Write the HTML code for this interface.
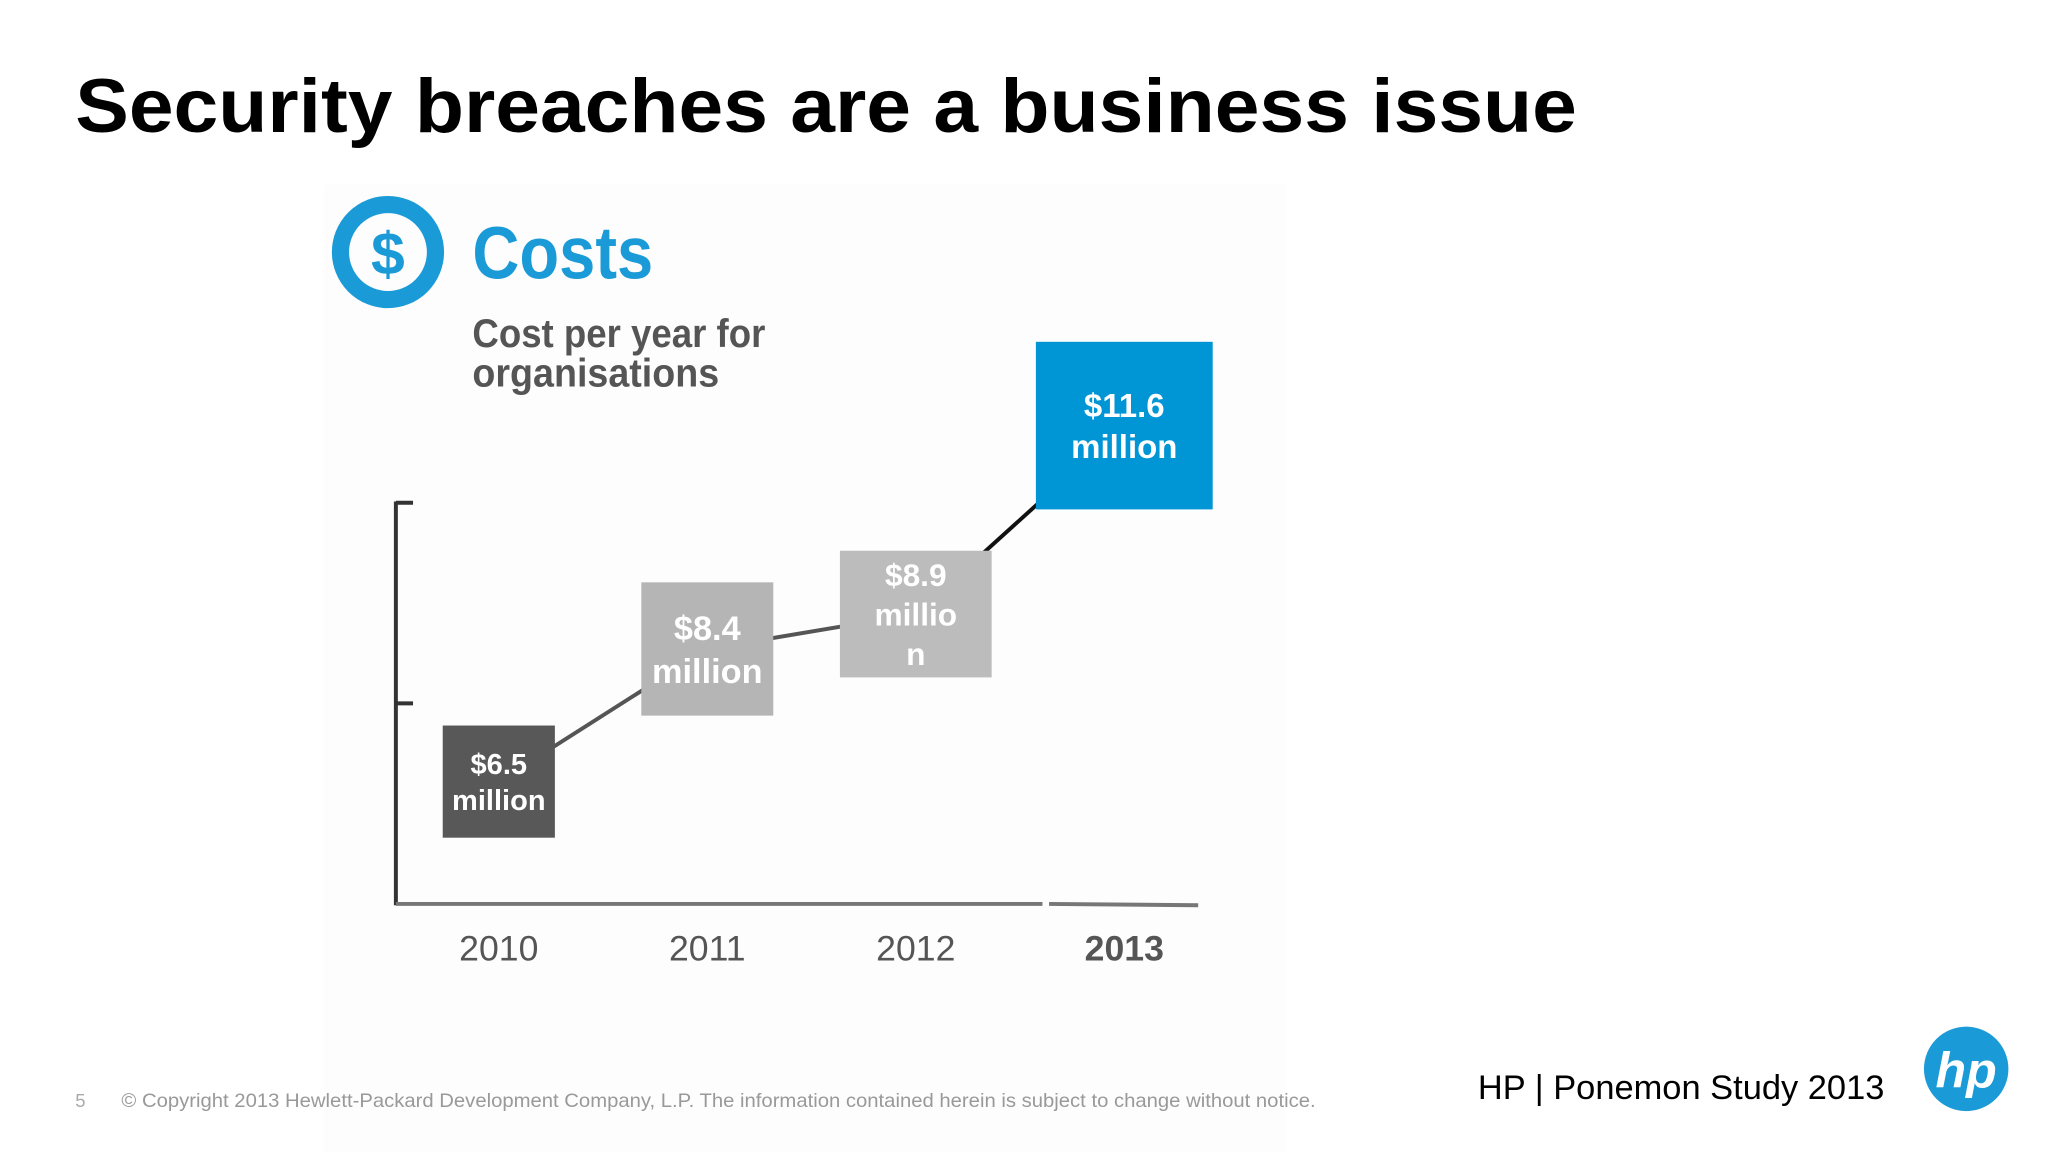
<!DOCTYPE html>
<html><head><meta charset="utf-8">
<style>
html,body{margin:0;padding:0;background:#fff;}
svg{display:block;}
</style></head>
<body>
<svg id="chart" width="2048" height="1152" viewBox="0 0 1552 873" preserveAspectRatio="none" xmlns="http://www.w3.org/2000/svg" font-family="Liberation Sans, sans-serif">
  <rect x="0" y="0" width="1552" height="873" fill="#ffffff"/>
  <rect x="245" y="140" width="730" height="740" fill="#fdfdfd"/>
  <text x="57" y="100" font-size="58" font-weight="bold" fill="#000" textLength="1138" lengthAdjust="spacingAndGlyphs">Security breaches are a business issue</text>
  <g>
    <circle cx="294" cy="191" r="36" fill="none" stroke="#1a9ad6" stroke-width="13"/>
    <text x="294" y="208" font-size="46" font-weight="bold" fill="#1a9ad6" text-anchor="middle">$</text>
  </g>
  <text x="358" y="211" font-size="56" font-weight="bold" fill="#1a9ad6" textLength="137" lengthAdjust="spacingAndGlyphs">Costs</text>
  <text x="358" y="263" font-size="30" font-weight="bold" fill="#555" textLength="222" lengthAdjust="spacingAndGlyphs">Cost per year for</text>
  <text x="358" y="293" font-size="30" font-weight="bold" fill="#555" textLength="187" lengthAdjust="spacingAndGlyphs">organisations</text>
  <g stroke="#333" stroke-width="3" fill="none">
    <line x1="300" y1="380" x2="300" y2="686"/>
    <line x1="300" y1="381" x2="313" y2="381"/>
    <line x1="300" y1="533" x2="313" y2="533"/>
  </g>
  <g stroke="#777" stroke-width="3">
    <line x1="300" y1="685" x2="790" y2="685"/>
    <line x1="795" y1="685" x2="908" y2="686"/>
  </g>
  <g id="marks"></g>
  <text x="57" y="839" font-size="14" fill="#aaa">5</text>
  <text x="92" y="839" font-size="15" fill="#999" textLength="905" lengthAdjust="spacingAndGlyphs">© Copyright 2013 Hewlett-Packard Development Company, L.P.  The information contained herein is subject to change without notice.</text>
  <text x="1120" y="833" font-size="26" fill="#000" textLength="308" lengthAdjust="spacingAndGlyphs">HP | Ponemon Study 2013</text>
  <g>
    <circle cx="1490" cy="810" r="32" fill="#1a9ad6"/>
    <text x="1490" y="824" font-size="38" font-weight="bold" font-style="italic" fill="#fff" text-anchor="middle">hp</text>
  </g>
</svg>
<script>
const years = ["2010","2011","2012","2013"];
const costValues = [6.5, 8.4, 8.9, 11.6];
const valueLabels = [["$6.5","million"],["$8.4","million"],["$8.9","millio","n"],["$11.6","million"]];

const boxFill = ["#585858","#b5b5b5","#bcbcbc","#0096d6"];
const boxW = [85, 100, 115, 134];
const boxH = [85, 101, 96, 127];
const boxFont = [22, 26, 24, 25];

const xCenter = i => 378 + i * 158;
const yCenter = v => 468 - (v - 8.85) * 52.9;

const ns = "http://www.w3.org/2000/svg";
const g = document.getElementById("marks");
function mk(tag, attrs){const e=document.createElementNS(ns,tag);for(const k in attrs)e.setAttribute(k,attrs[k]);return e;}

for (let i = 0; i < costValues.length - 1; i++) {
  const ln = mk("line",{x1:xCenter(i),y1:yCenter(costValues[i]),x2:xCenter(i+1),y2:yCenter(costValues[i+1]),stroke:i===2?"#111":"#555","stroke-width":3});
  
  
  g.appendChild(ln);
}
costValues.forEach((v, i) => {
  const cx = xCenter(i), cy = yCenter(v);
  const r = mk("rect",{x:cx-boxW[i]/2,y:cy-boxH[i]/2,width:boxW[i],height:boxH[i],fill:boxFill[i]});
  
  
  g.appendChild(r);
  const lines = valueLabels[i];
  const lh = boxFont[i] * 1.25;
  lines.forEach((s, j) => {
    const t = mk("text",{x:cx,y:cy - (lines.length-1)*lh/2 + j*lh + boxFont[i]*0.36,"text-anchor":"middle","font-size":boxFont[i],"font-weight":"bold",fill:"#fff"});
    t.textContent = s;
    
    
    g.appendChild(t);
  });
  const yl = mk("text",{x:cx,y:728,"text-anchor":"middle","font-size":27,"font-weight":i===3?"bold":"normal",fill:"#555"});
  yl.textContent = years[i];
  
  
  g.appendChild(yl);
});
</script>
</body></html>
